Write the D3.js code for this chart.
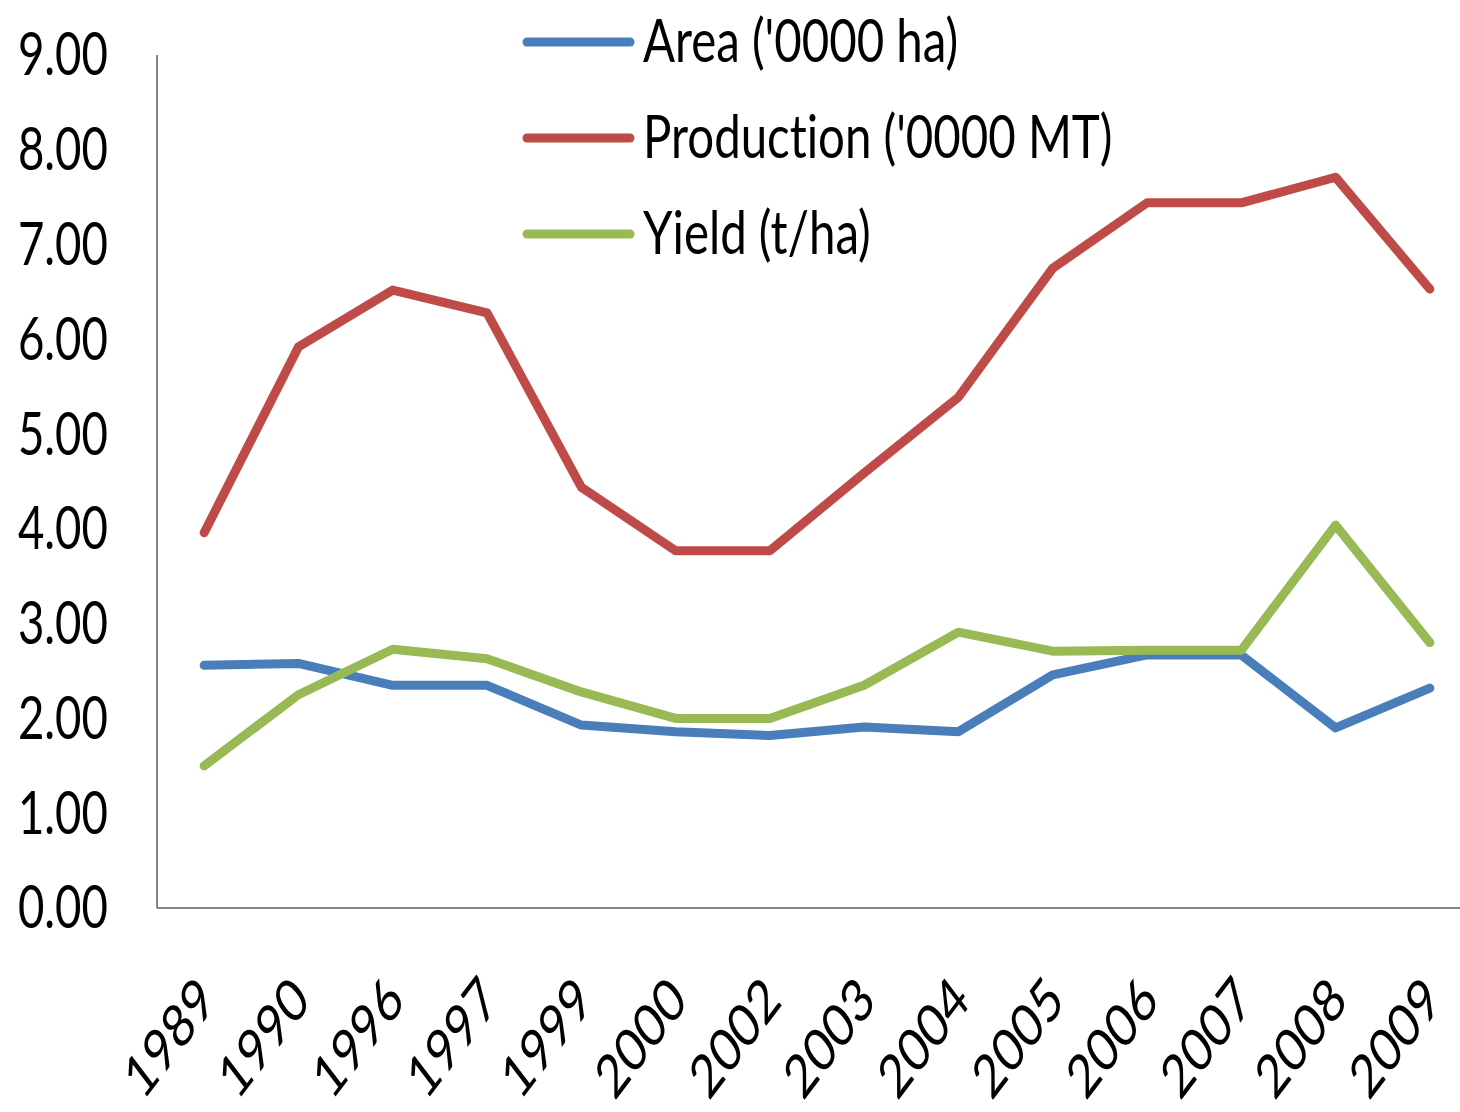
<!DOCTYPE html>
<html><head><meta charset="utf-8">
<script src="https://cdn.jsdelivr.net/npm/d3@7/dist/d3.min.js"></script>
<style>html,body{margin:0;padding:0;background:#fff;overflow:hidden}
text{font-variant-ligatures:none;font-feature-settings:"liga" 0}</style>
</head><body>
<svg id="chart" width="1460" height="1112"></svg>
<script>
const years = ["1989","1990","1996","1997","1999","2000","2002","2003","2004","2005","2006","2007","2008","2009"];
const area = [2.56,2.58,2.35,2.35,1.93,1.86,1.82,1.91,1.86,2.46,2.67,2.67,1.90,2.32];
const production = [3.96,5.92,6.52,6.28,4.44,3.77,3.77,4.59,5.39,6.75,7.44,7.44,7.71,6.53];
const yieldV = [1.50,2.25,2.73,2.63,2.28,2.00,2.00,2.35,2.91,2.71,2.72,2.72,4.04,2.80];
const seriesNames = ["Area ('0000 ha)","Production ('0000 MT)","Yield (t/ha)"];
const seriesColors = ["#4A7EBB","#BE4B48","#98B954"];
const yTicks = [0,1,2,3,4,5,6,7,8,9];

(function(){
const svg = d3.select("#chart");
const mL = 157, mR = 1477, mT = 55, mB = 908;
const sx = 0.76, fs = 60, font = "Lato, 'DejaVu Sans', sans-serif", fw = 400;

const x = d3.scalePoint().domain(years).range([mL, mR]).padding(0.5);
const y = d3.scaleLinear().domain([0, 9]).range([mB, mT]);

svg.append("line").attr("x1", mL).attr("x2", mL).attr("y1", mT).attr("y2", mB)
  .attr("stroke", "#868686").attr("stroke-width", 2);
svg.append("line").attr("x1", mL).attr("x2", mR).attr("y1", mB).attr("y2", mB)
  .attr("stroke", "#868686").attr("stroke-width", 2);

svg.append("g").selectAll("text").data(yTicks).join("text")
  .attr("transform", d => `translate(108,${y(d)}) scale(${sx},1)`)
  .attr("text-anchor", "end").attr("dy", "0.34em")
  .attr("font-family", font).attr("font-weight", fw).attr("font-size", fs).attr("fill", "#000")
  .text(d => d3.format(".2f")(d));

svg.append("g").selectAll("text").data(years).join("text")
  .attr("transform", d => `translate(${x(d) + 2},${mB + 80}) scale(${sx},1) rotate(-45)`)
  .attr("text-anchor", "end").attr("dy", "0.36em")
  .attr("font-family", font).attr("font-weight", fw).attr("font-size", fs).attr("fill", "#000")
  .text(d => d);

const data = [area, production, yieldV];
const line = d3.line().x((d, i) => x(years[i])).y(d => y(d));
svg.append("g").selectAll("path").data(data).join("path")
  .attr("d", d => line(d)).attr("fill", "none")
  .attr("stroke", (d, i) => seriesColors[i]).attr("stroke-width", 9)
  .attr("stroke-linejoin", "round").attr("stroke-linecap", "round");

const leg = svg.append("g").selectAll("g").data(seriesNames).join("g")
  .attr("transform", (d, i) => `translate(527,${42 + i * 96})`);
leg.append("line").attr("x1", 0).attr("x2", 103).attr("y1", 0).attr("y2", 0)
  .attr("stroke", (d, i) => seriesColors[i]).attr("stroke-width", 9).attr("stroke-linecap", "round");
leg.append("text").attr("transform", `translate(116,0) scale(0.79,1)`)
  .attr("dy", "0.34em").attr("font-family", font).attr("font-weight", fw).attr("font-size", fs).attr("fill", "#000")
  .text(d => d);
})();
</script>
</body></html>
